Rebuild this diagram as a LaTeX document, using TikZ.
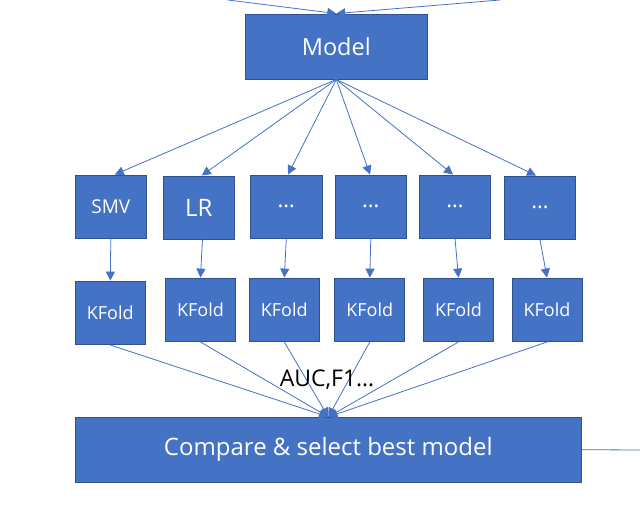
\documentclass[tikz,border=0pt]{standalone}
\usepackage{fontspec}
\setmainfont{Open Sans}
\usetikzlibrary{arrows.meta}
\definecolor{boxfill}{HTML}{4472C4}
\definecolor{boxline}{HTML}{2F528F}
\begin{document}
\begin{tikzpicture}[x=1pt,y=-1pt,
  blk/.style={draw=boxline,fill=boxfill,line width=0.9pt,text=white,inner sep=0pt,anchor=center},
  conn/.style={draw=boxfill,line width=0.8pt,-{Triangle[length=9pt,width=9pt]}},
  plain/.style={draw=boxfill,line width=0.8pt}]
\useasboundingbox (0,0) rectangle (640,506);
\fill[white] (0,0) rectangle (640,506);
% boxes
\node[blk,minimum width=182.7pt,minimum height=65pt,font=\fontsize{23.5}{26}\selectfont] (model) at (336.3,46.5) {Model};
\node[blk,minimum width=71.7pt,minimum height=63pt,font=\fontsize{19}{20}\selectfont] (smv) at (110.8,206.5) {SMV};
\node[blk,minimum width=71pt,minimum height=63.3pt,font=\fontsize{24}{26}\selectfont] (lr) at (198.8,207.6) {LR};
\node[blk,minimum width=72.7pt,minimum height=63pt,font=\fontsize{22}{24}\selectfont] (d1) at (286.3,206.5) {…};
\node[blk,minimum width=71.7pt,minimum height=63pt,font=\fontsize{22}{24}\selectfont] (d2) at (370.8,206.5) {…};
\node[blk,minimum width=71.4pt,minimum height=63pt,font=\fontsize{22}{24}\selectfont] (d3) at (455,206.5) {…};
\node[blk,minimum width=71.4pt,minimum height=63.3pt,font=\fontsize{22}{24}\selectfont] (d4) at (540,207.6) {…};
\tikzset{kf/.style={blk,minimum width=70pt,minimum height=63.5pt,font=\fontsize{18}{20}\selectfont}}
\node[kf] (k1) at (110.3,312.8) {KFold};
\node[kf] (k2) at (200.5,309.8) {KFold};
\node[kf] (k3) at (284.3,309.8) {KFold};
\node[kf] (k4) at (369.8,309.8) {KFold};
\node[kf] (k5) at (458.5,309.8) {KFold};
\node[kf] (k6) at (547,309.8) {KFold};
\node[blk,minimum width=506.7pt,minimum height=64.7pt,font=\fontsize{24}{28}\selectfont] (cmp) at (328.3,449.7) {Compare \& select best model};
% free ends
\coordinate (in1) at (228,0);
\coordinate (in2) at (500,0);
\coordinate (out) at (640,450);
% inputs to model
\draw[conn] (in1) -- (model.north);
\draw[conn] (in2) -- (model.north);
% model to algorithms
\draw[conn] (model.south) -- ([xshift=4pt]smv.north);
\draw[conn] (model.south) -- ([xshift=3pt]lr.north);
\draw[conn] (model.south) -- ([xshift=1.7pt]d1.north);
\draw[conn] (model.south) -- ([xshift=-0.8pt]d2.north);
\draw[conn] (model.south) -- ([xshift=-2pt]d3.north);
\draw[conn] (model.south) -- ([xshift=-4pt]d4.north);
% algorithms to kfold
\draw[conn] (smv.south) -- (k1.north);
\draw[conn] ([xshift=4pt,yshift=7pt]lr.south) -- (k2.north);
\draw[conn] (d1.south) -- (k3.north);
\draw[conn] (d2.south) -- (k4.north);
\draw[conn] (d3.south) -- (k5.north);
\draw[conn] (d4.south) -- (k6.north);
% kfold to compare
\foreach \k in {k1,k2,k3,k4,k5,k6}
  \draw[conn] (\k.south) -- (cmp.north);
\node[text=black,font=\fontsize{23}{25}\selectfont,inner sep=0pt] (auc) at (327,380) {AUC,F1…};
\draw[plain] (cmp.east) -- (out);
\end{tikzpicture}
\end{document}
